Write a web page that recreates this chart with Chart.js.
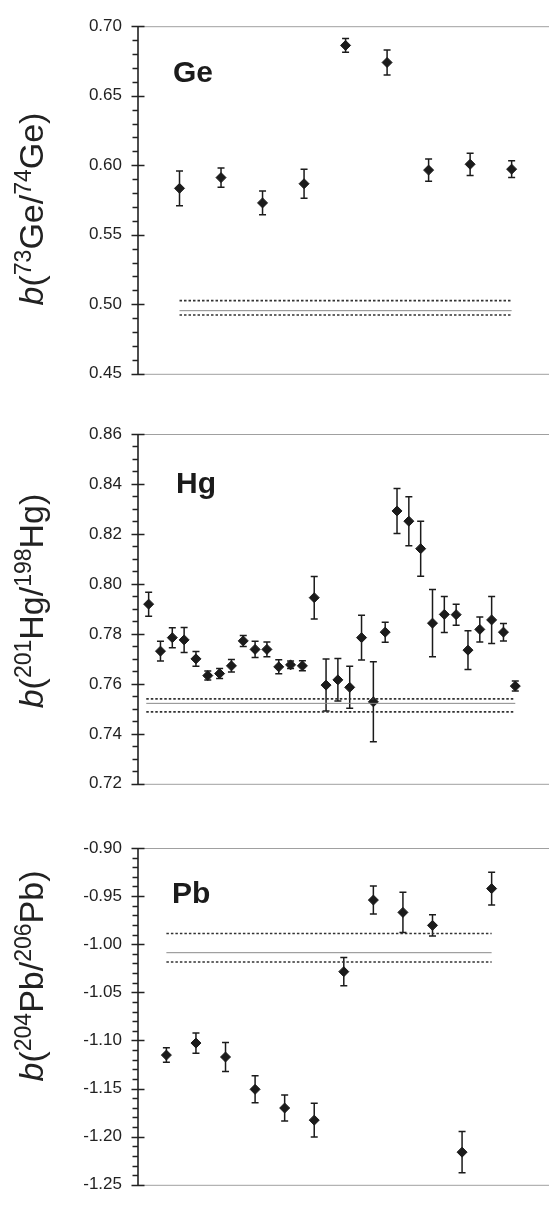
<!DOCTYPE html>
<html>
<head>
<meta charset="utf-8">
<script src="https://cdn.jsdelivr.net/npm/chart.js@4.4.1/dist/chart.umd.min.js"></script>
<style>
  html, body { margin: 0; padding: 0; background: #fff; }
  body { width: 555px; height: 1211px; position: relative; overflow: hidden; }
  canvas { position: absolute; left: 0; }
</style>
</head>
<body>
<canvas id="ge" width="555" height="400" style="top:0px"></canvas>
<canvas id="hg" width="555" height="410" style="top:400px"></canvas>
<canvas id="pb" width="555" height="401" style="top:810px"></canvas>
<script>
// Ge panel
const geValues = [0.5834, 0.5911, 0.5729, 0.5867, 0.6862, 0.6739, 0.5965, 0.6007, 0.5972];
const geErrors = [0.0125, 0.007, 0.0085, 0.0104, 0.005, 0.009, 0.008, 0.008, 0.006];
const geRef = [0.5026, 0.4954, 0.4923];   // upper, mean, lower

// Hg panel
const hgValues = [0.7919, 0.7731, 0.7785, 0.7776, 0.7700, 0.7633, 0.7641, 0.7672,
  0.7772, 0.7738, 0.7738, 0.7668, 0.7676, 0.7672, 0.7945, 0.7595, 0.7616, 0.7586,
  0.7785, 0.7528, 0.7807, 0.8292, 0.8251, 0.8141, 0.7843, 0.7878, 0.7877, 0.7735,
  0.7818, 0.7856, 0.7807, 0.7591];
const hgErrors = [0.0048, 0.004, 0.004, 0.005, 0.003, 0.0018, 0.002, 0.0025,
  0.0022, 0.0033, 0.003, 0.0028, 0.0015, 0.002, 0.0085, 0.0104, 0.0085, 0.0084,
  0.009, 0.016, 0.004, 0.009, 0.0098, 0.011, 0.0135, 0.0072, 0.0042, 0.0078,
  0.005, 0.0094, 0.0035, 0.002];
const hgRef = [0.7540, 0.7522, 0.7488];

// Pb panel
const pbValues = [-1.1152, -1.1027, -1.1172, -1.1508, -1.1702, -1.1828, -1.0285,
  -0.9541, -0.9669, -0.9804, -1.2161, -0.9422];
const pbErrors = [0.0075, 0.0105, 0.015, 0.014, 0.0135, 0.0175, 0.0147, 0.0145,
  0.021, 0.011, 0.0215, 0.017];
const pbRef = [-0.9888, -1.0088, -1.0185];

const FONT = '"Liberation Sans", Arial, sans-serif';
const INK = '#1b1b1b';

// error bars, drawn under the diamonds
const errorBars = {
  id: 'errorBars',
  beforeDatasetsDraw(chart, args, opts) {
    const { ctx, scales: { x, y } } = chart;
    const vals = opts.values, errs = opts.errors;
    ctx.save();
    ctx.strokeStyle = INK;
    ctx.lineWidth = 1.5;
    vals.forEach((v, i) => {
      const px = x.getPixelForValue(i + 1);
      const top = y.getPixelForValue(v + errs[i]);
      const bot = y.getPixelForValue(v - errs[i]);
      ctx.beginPath();
      ctx.moveTo(px, top); ctx.lineTo(px, bot);
      ctx.moveTo(px - 3.5, top); ctx.lineTo(px + 3.5, top);
      ctx.moveTo(px - 3.5, bot); ctx.lineTo(px + 3.5, bot);
      ctx.stroke();
    });
    ctx.restore();
  }
};

// axis line, major/minor ticks, grey top and bottom lines, panel labels
const frame = {
  id: 'frame',
  afterDraw(chart, args, opts) {
    const { ctx, chartArea: a, scales: { y } } = chart;
    ctx.save();
    ctx.strokeStyle = '#a0a0a0';
    ctx.lineWidth = 1;
    ctx.beginPath();
    ctx.moveTo(a.left, a.top + 0.5); ctx.lineTo(a.right, a.top + 0.5);
    ctx.moveTo(a.left, a.bottom + 0.5); ctx.lineTo(a.right, a.bottom + 0.5);
    ctx.stroke();

    ctx.strokeStyle = '#222';
    ctx.lineWidth = 1.6;
    ctx.beginPath();
    ctx.moveTo(a.left, a.top); ctx.lineTo(a.left, a.bottom + 1);
    y.ticks.forEach(t => {
      const py = Math.round(y.getPixelForValue(t.value)) + 0.5;
      if (opts.isMajor(t.value)) {
        ctx.moveTo(a.left - 6.5, py); ctx.lineTo(a.left + 6.5, py);
      } else {
        ctx.moveTo(a.left - 5.5, py); ctx.lineTo(a.left, py);
      }
    });
    ctx.stroke();

    // element name
    ctx.fillStyle = INK;
    ctx.font = 'bold 30px ' + FONT;
    ctx.textAlign = 'left';
    ctx.textBaseline = 'alphabetic';
    ctx.fillText(opts.name, opts.nameX, opts.nameY);

    // rotated axis title with italic b and superscripts
    const parts = opts.title;
    const fontOf = p => (p.i ? 'italic ' : '') + (p.s ? '23px ' : '34px ') + FONT;
    let total = 0;
    parts.forEach(p => {
      ctx.font = fontOf(p);
      p.w = ctx.measureText(p.t).width;
      total += p.w;
    });
    ctx.fillStyle = '#222';
    ctx.translate(opts.titleX, opts.titleY);
    ctx.rotate(-Math.PI / 2);
    let cx = -total / 2;
    parts.forEach(p => {
      ctx.font = fontOf(p);
      ctx.fillText(p.t, cx, p.s ? -12 : 0);
      cx += p.w;
    });
    ctx.restore();
  }
};

function title(el, a, b) {
  return [
    { t: 'b', i: true }, { t: '(' }, { t: a, s: true }, { t: el + '/' },
    { t: b, s: true }, { t: el + ')' }
  ];
}

function makePanel(id, cfg) {
  const pts = cfg.values.map((v, i) => ({ x: i + 1, y: v }));
  const refSets = cfg.ref.map((r, k) => ({
    type: 'line',
    data: [{ x: cfg.refFrom, y: r }, { x: cfg.refTo, y: r }],
    borderColor: k === 1 ? '#8a8a8a' : '#333',
    borderWidth: k === 1 ? 1 : 1.6,
    borderDash: k === 1 ? [] : [2.5, 2],
    pointRadius: 0,
    fill: false
  }));
  new Chart(document.getElementById(id), {
    type: 'scatter',
    data: {
      datasets: [...refSets, {
        data: pts,
        pointStyle: 'rectRot',
        pointRadius: 5,
        pointBorderWidth: 1,
        backgroundColor: INK,
        borderColor: INK
      }]
    },
    options: {
      responsive: false,
      animation: false,
      devicePixelRatio: 1,
      layout: { padding: { top: cfg.padTop, bottom: cfg.padBottom, left: 0, right: 0 } },
      plugins: {
        legend: { display: false },
        tooltip: { enabled: false },
        errorBars: { values: cfg.values, errors: cfg.errors },
        frame: {
          isMajor: cfg.isMajor, name: cfg.name, nameX: cfg.nameX, nameY: cfg.nameY,
          title: cfg.title, titleX: 43, titleY: cfg.titleY
        }
      },
      scales: {
        x: { type: 'linear', display: false, min: cfg.xMin, max: cfg.xMax },
        y: {
          min: cfg.yMin, max: cfg.yMax,
          afterFit(scale) { scale.width = 138; },
          grid: { display: false, drawTicks: false },
          border: { display: false },
          ticks: {
            stepSize: cfg.step,
            autoSkip: false,
            padding: 16,
            color: '#222',
            font: { family: FONT, size: 17 },
            callback: (v) => cfg.isMajor(v) ? v.toFixed(2) : ''
          }
        }
      }
    },
    plugins: [errorBars, frame]
  });
}

makePanel('ge', {
  values: geValues, errors: geErrors, ref: geRef, refFrom: 1, refTo: 9,
  xMin: 0, xMax: 9.9, yMin: 0.45, yMax: 0.70, step: 0.01,
  isMajor: v => Math.round(v * 1000) % 50 === 0,
  padTop: 22, padBottom: 21,
  name: 'Ge', nameX: 173, nameY: 82,
  title: title('Ge', '73', '74'), titleY: 209
});

makePanel('hg', {
  values: hgValues, errors: hgErrors, ref: hgRef, refFrom: 0.8, refTo: 32,
  xMin: 0.1, xMax: 34.85, yMin: 0.72, yMax: 0.86, step: 0.005,
  isMajor: v => Math.round(v * 1000) % 20 === 0,
  padTop: 34, padBottom: 20,
  name: 'Hg', nameX: 176, nameY: 93,
  title: title('Hg', '201', '198'), titleY: 201
});

makePanel('pb', {
  values: pbValues, errors: pbErrors, ref: pbRef, refFrom: 1, refTo: 12,
  xMin: 0.04, xMax: 13.94, yMin: -1.25, yMax: -0.90, step: 0.01,
  isMajor: v => Math.round(v * 1000) % 50 === 0,
  padTop: 38, padBottom: 8,
  name: 'Pb', nameX: 172, nameY: 93,
  title: title('Pb', '204', '206'), titleY: 166
});
</script>
</body>
</html>
